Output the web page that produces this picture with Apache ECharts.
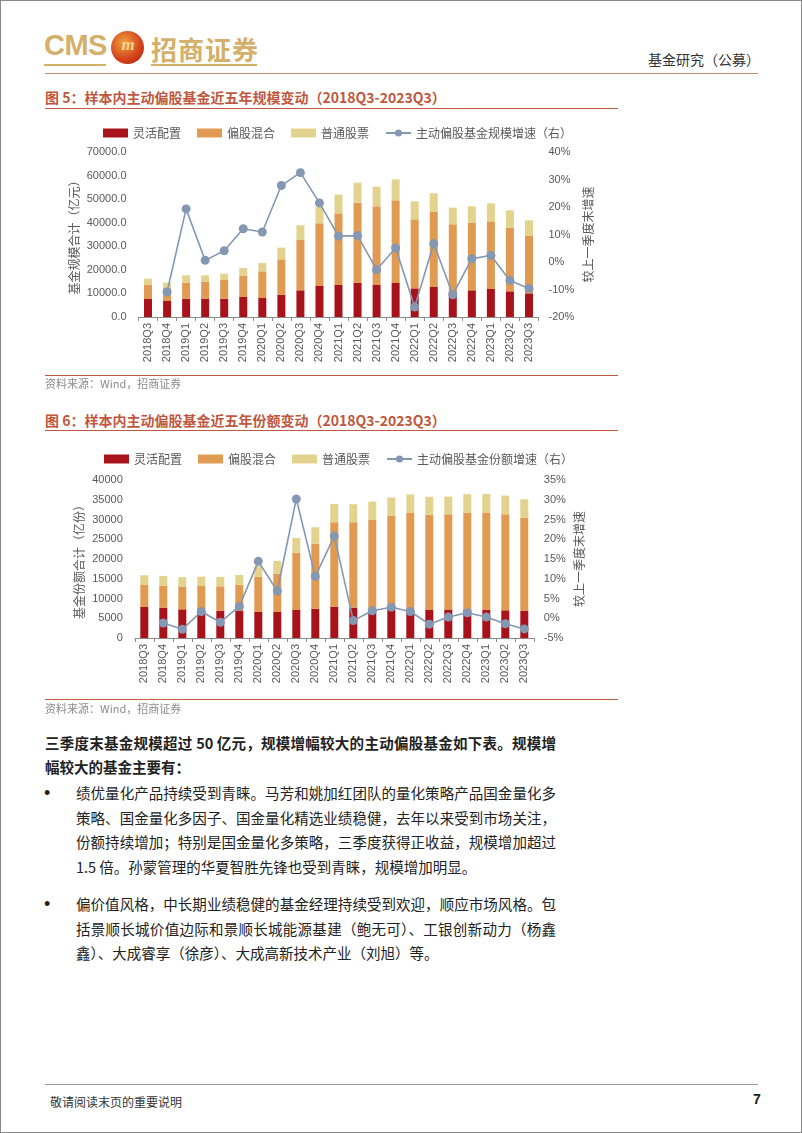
<!DOCTYPE html>
<html><head><meta charset="utf-8">
<script src="https://cdn.jsdelivr.net/npm/echarts@6/dist/echarts.min.js"></script>
<style>
html,body{margin:0;padding:0;background:#fff;}
#page{position:relative;width:800px;height:1131px;border:1px solid #8a8a8a;overflow:hidden;font-family:"Noto Sans CJK SC","Liberation Sans",sans-serif;}
.abs{position:absolute;white-space:nowrap;}
.rule{position:absolute;height:1px;}
.title{position:absolute;left:44px;font-size:14px;font-weight:bold;color:#c0573e;line-height:16px;}
.src{position:absolute;left:44px;font-size:11px;color:#8c8c8c;line-height:14px;}
.ln{position:absolute;font-size:14.5px;line-height:18px;color:#222;text-align:justify;text-align-last:justify;white-space:nowrap;}
.last{text-align-last:left;}
.bul{position:absolute;left:43px;font-size:18px;line-height:18px;color:#222;font-family:"Liberation Sans",sans-serif;}
.chart{position:absolute;left:0;width:802px;}
</style></head>
<body><div id="page">
<!-- header -->
<div class="abs" style="left:43px;top:28px;font-size:29px;font-weight:bold;color:#d4b06a;font-family:'Liberation Sans',sans-serif;letter-spacing:-0.5px;">CMS</div>
<div class="abs" style="left:110px;top:30px;width:33px;height:33px;border-radius:50%;background:radial-gradient(circle at 40% 35%,#f0a040,#d2401a 60%,#9e1e0e);"></div>
<div class="abs" style="left:113px;top:34px;width:28px;font-size:17px;font-weight:bold;font-style:italic;color:#f6d78a;text-align:center;font-family:'Liberation Serif',serif;">m</div>
<div class="abs" style="left:150px;top:29px;font-size:26px;font-weight:bold;color:#d4b06a;letter-spacing:1px;">招商证券</div>
<div class="rule" style="left:43px;top:63px;width:62px;background:#d4b06a;height:2px;"></div>
<div class="rule" style="left:150px;top:63px;width:106px;background:#d4b06a;height:2px;"></div>
<div class="abs" style="left:647px;top:48px;font-size:14px;color:#333;">基金研究（公募）</div>
<div class="rule" style="left:44px;top:72px;width:713px;background:#c98a73;"></div>

<!-- figure 5 -->
<div class="title" style="top:88px;">图 5：样本内主动偏股基金近五年规模变动（2018Q3-2023Q3）</div>
<div class="rule" style="left:44px;top:107px;width:573px;background:#c0573e;"></div>
<div id="c1" class="chart" style="top:110px;height:265px;"></div>
<div class="rule" style="left:44px;top:374px;width:573px;background:#c0573e;"></div>
<div class="src" style="top:375px;">资料来源：Wind，招商证券</div>

<!-- figure 6 -->
<div class="title" style="top:411px;">图 6：样本内主动偏股基金近五年份额变动（2018Q3-2023Q3）</div>
<div class="rule" style="left:44px;top:429px;width:573px;background:#c0573e;"></div>
<div id="c2" class="chart" style="top:430px;height:270px;"></div>
<div class="rule" style="left:44px;top:698px;width:573px;background:#c0573e;"></div>
<div class="src" style="top:700px;">资料来源：Wind，招商证券</div>

<!-- body text -->
<div class="ln" style="left:44px;top:733px;width:511px;font-weight:bold;">三季度末基金规模超过 50 亿元，规模增幅较大的主动偏股基金如下表。规模增</div>
<div class="ln last" style="left:44px;top:757px;width:511px;font-weight:bold;">幅较大的基金主要有：</div>

<div class="bul" style="top:783px;">•</div>
<div class="ln" style="left:75px;top:783px;width:480px;">绩优量化产品持续受到青睐。马芳和姚加红团队的量化策略产品国金量化多</div>
<div class="ln" style="left:75px;top:808px;width:480px;">策略、国金量化多因子、国金量化精选业绩稳健，去年以来受到市场关注，</div>
<div class="ln" style="left:75px;top:832px;width:480px;">份额持续增加；特别是国金量化多策略，三季度获得正收益，规模增加超过</div>
<div class="ln last" style="left:75px;top:857px;width:480px;">1.5 倍。孙蒙管理的华夏智胜先锋也受到青睐，规模增加明显。</div>

<div class="bul" style="top:894px;">•</div>
<div class="ln" style="left:75px;top:894px;width:480px;">偏价值风格，中长期业绩稳健的基金经理持续受到欢迎，顺应市场风格。包</div>
<div class="ln" style="left:75px;top:919px;width:480px;">括景顺长城价值边际和景顺长城能源基建（鲍无可）、工银创新动力（杨鑫</div>
<div class="ln last" style="left:75px;top:943px;width:480px;">鑫）、大成睿享（徐彦）、大成高新技术产业（刘旭）等。</div>

<!-- footer -->
<div class="rule" style="left:44px;top:1083px;width:713px;background:#9a9a9a;"></div>
<div class="abs" style="left:49px;top:1092px;font-size:12px;color:#333;">敬请阅读末页的重要说明</div>
<div class="abs" style="left:752px;top:1090px;font-size:14px;font-weight:bold;color:#222;font-family:'Liberation Sans',sans-serif;">7</div>
</div>

<script>
// ---------- data ----------
const quarters = ['2018Q3','2018Q4','2019Q1','2019Q2','2019Q3','2019Q4','2020Q1','2020Q2','2020Q3','2020Q4',
  '2021Q1','2021Q2','2021Q3','2021Q4','2022Q1','2022Q2','2022Q3','2022Q4','2023Q1','2023Q2','2023Q3'];
const seriesNames = ['灵活配置','偏股混合','普通股票'];

// Figure 5: fund size (亿元)
const sizeFlexible = [7640,6790,7780,7640,7780,8490,8060,9480,11320,13150,13580,14570,13580,14430,12160,12730,10800,11320,11880,10890,10040];
const sizeHybrid   = [6080,5410,6790,7210,7920,9050,11320,14990,21350,26600,30410,33940,33380,35070,29280,31820,28520,28570,28710,27010,24330];
const sizeStock    = [2550,2370,3110,2830,2690,3250,3530,4950,6230,7050,7920,8490,8340,8900,7640,7920,7070,7070,7640,7360,6650];
const sizeGrowth   = [null,-10.9,19.3,0.6,4.1,12.1,10.9,27.8,32.5,21.5,9.4,9.6,-2.8,5.1,-16.4,6.7,-11.9,1.2,2.4,-6.7,-9.6];

// Figure 6: fund shares (亿份)
const shareFlexible = [7850,7690,7260,6700,6930,6840,6590,6590,7090,7430,7940,7690,6840,7690,6840,7090,7090,7100,7180,7010,6840];
const shareHybrid   = [5580,5570,5660,6480,6160,6670,8870,9710,14450,16470,21370,21620,23140,23220,24920,24080,24240,24660,24580,24320,23570];
const shareStock    = [2450,2450,2450,2360,2370,2450,2740,3210,3800,4140,4640,4560,4560,4650,4560,4560,4480,4640,4730,4730,4730];
const shareGrowth   = [null,-1.2,-2.8,1.7,-1.0,3.0,14.4,6.9,30.2,10.6,20.8,-0.6,1.9,2.8,1.7,-1.5,0.3,1.4,0.3,-1.4,-2.7];

// ---------- style ----------
const COLORS = ['#a8131b','#e09a52','#e4d38f','#8497b3'];
const TXT = '#595959';
const CJK = '"Noto Sans CJK SC", sans-serif';
const NUM = '"Liberation Sans", Arial, sans-serif';

function build(el, cfg){
  const chart = echarts.init(document.getElementById(el), null, {renderer:'canvas'});
  const bars = cfg.bars.map((d,i)=>({
    name: seriesNames[i], type:'bar', stack:'total', data:d, barWidth:8,
    yAxisIndex:0, itemStyle:{color:COLORS[i]}
  }));
  const line = {
    name: cfg.lineName, type:'line', yAxisIndex:1, data:cfg.line,
    symbol:'circle', symbolSize:9, connectNulls:false,
    lineStyle:{color:COLORS[3], width:1.6}, itemStyle:{color:COLORS[3]}, z:5
  };
  chart.setOption({
    animation:false,
    textStyle:{fontFamily:NUM},
    legend:{
      left:cfg.legendLeft, top:cfg.legendTop, itemGap:cfg.legendGap, itemWidth:25, itemHeight:9,
      textStyle:{color:TXT, fontSize:12, fontFamily:CJK},
      data:[
        {name:seriesNames[0], icon:'rect'},
        {name:seriesNames[1], icon:'rect'},
        {name:seriesNames[2], icon:'rect'},
        {name:cfg.lineName}
      ]
    },
    grid:{left:cfg.grid[0], right:cfg.grid[1], top:cfg.grid[2], bottom:cfg.grid[3]},
    xAxis:{
      type:'category', data:quarters,
      axisLine:{lineStyle:{color:'#8c8c8c'}},
      axisTick:{show:true, length:4, lineStyle:{color:'#8c8c8c'}},
      axisLabel:{rotate:90, color:TXT, fontSize:11, fontFamily:NUM, margin:6}
    },
    yAxis:[
      {type:'value', min:0, max:cfg.leftMax, interval:cfg.leftInterval,
       splitLine:{show:false}, axisLine:{show:false}, axisTick:{show:false},
       axisLabel:{color:TXT, fontSize:11, fontFamily:NUM, margin:12, formatter:cfg.leftFmt},
       name:cfg.leftName, nameLocation:'middle', nameRotate:90, nameGap:cfg.leftNameGap,
       nameTextStyle:{color:TXT, fontSize:12, fontFamily:CJK}},
      {type:'value', min:cfg.rMin, max:cfg.rMax, interval:cfg.rInterval,
       splitLine:{show:false}, axisLine:{show:false}, axisTick:{show:false},
       axisLabel:{color:TXT, fontSize:11, fontFamily:NUM, margin:10, formatter:v=>v+'%'},
       name:'较上一季度末增速', nameLocation:'middle', nameRotate:90, nameGap:cfg.rightNameGap,
       nameTextStyle:{color:TXT, fontSize:12, fontFamily:CJK}}
    ],
    series:[...bars, line]
  });
}

build('c1', {
  bars:[sizeFlexible,sizeHybrid,sizeStock], line:sizeGrowth, lineName:'主动偏股基金规模增速（右）',
  legendLeft:97, legendTop:11, legendGap:16,
  grid:[137.5, 264.5, 41, 59],
  leftMax:70000, leftInterval:10000, leftFmt:v=>v.toFixed(1), leftName:'基金规模合计（亿元）', leftNameGap:58,
  rMin:-20, rMax:40, rInterval:10, rightNameGap:44
});
build('c2', {
  bars:[shareFlexible,shareHybrid,shareStock], line:shareGrowth, lineName:'主动偏股基金份额增速（右）',
  legendLeft:98, legendTop:17, legendGap:16,
  grid:[133.8, 269.2, 49, 63],
  leftMax:40000, leftInterval:5000, leftFmt:v=>String(v), leftName:'基金份额合计（亿份）', leftNameGap:49,
  rMin:-5, rMax:35, rInterval:5, rightNameGap:40
});
</script>
</body></html>
